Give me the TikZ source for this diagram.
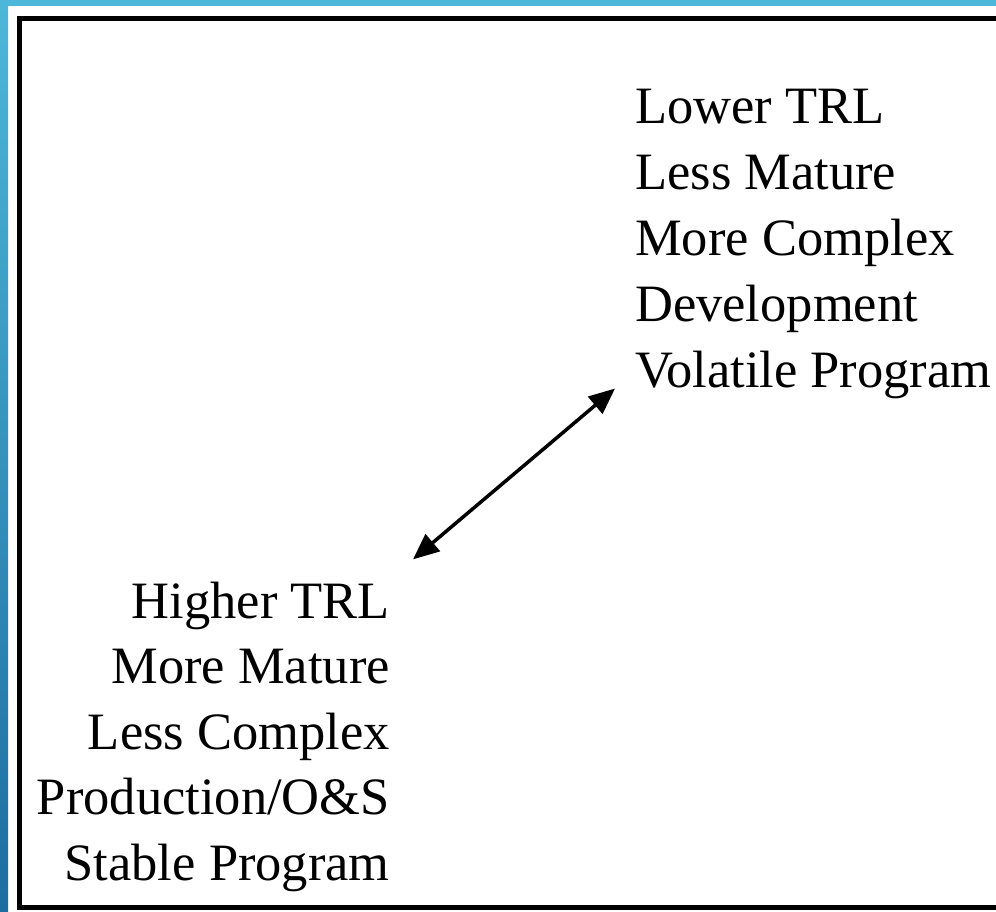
\documentclass[tikz,border=0pt]{standalone}
\usepackage{fontspec}
\setmainfont{Liberation Serif}
\usetikzlibrary{arrows.meta,calc}
\definecolor{slideTop}{HTML}{4DB7DA}
\definecolor{slideBottom}{HTML}{1C6EA0}

\begin{document}
\begin{tikzpicture}[x=1pt,y=-1pt,
  trlText/.style={font={\fontsize{52.5}{65}\selectfont}, inner sep=0pt},
  twoWay/.style={{Triangle[length=26pt,width=22pt]}-{Triangle[length=26pt,width=22pt]}, line width=3.5pt}]
\useasboundingbox (0,0) rectangle (996,911);
\fill[white] (0,0) rectangle (996,911);
\shade[top color=slideTop, bottom color=slideBottom] (0,0) rectangle (8,911);
\fill[slideTop] (0,0) rectangle (996,6);
\draw[line width=5pt] (1010,18) -- (19.5,18) -- (19.5,907.5) -- (1010,907.5);
% upper right block
\foreach \txt [count=\i] in {Lower TRL, Less Mature, More Complex, Development, Volatile Program}
  \node[trlText, anchor=base west] (lo\i) at (635,{123+66*(\i-1)}) {\txt};
% lower left block
\foreach \txt [count=\i] in {Higher TRL, More Mature, Less Complex, Production/O\&S, Stable Program}
  \node[trlText, anchor=base east] (hi\i) at (390,{618+65.5*(\i-1)}) {\txt};
\draw[twoWay] ($(hi1.north east)+(23,-22)$) -- ($(lo5.south west)+(-20,-10)$);
\end{tikzpicture}
\end{document}
